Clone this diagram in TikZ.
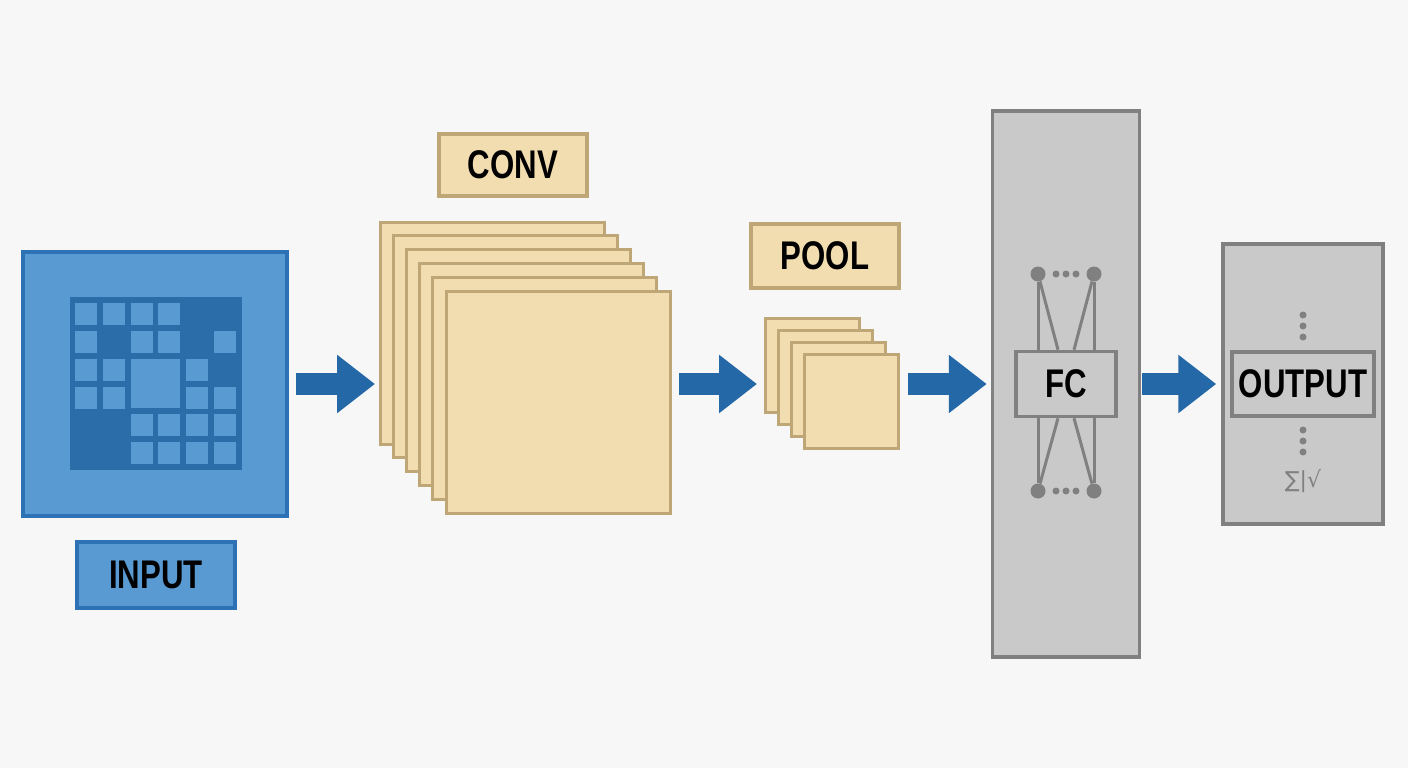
\documentclass[tikz,border=0pt]{standalone}
\usepackage{fontspec}
\setmainfont{Liberation Sans}
\newfontfamily\narrowbold[FakeStretch=0.78]{Liberation Sans Bold}
\newfontfamily\symfont{DejaVu Sans}
\usetikzlibrary{arrows.meta}
\definecolor{inblue}{HTML}{5A9AD3}
\definecolor{inedge}{HTML}{2C72B4}
\definecolor{indark}{HTML}{2A6DA9}
\definecolor{arblue}{HTML}{2568A7}
\definecolor{beige}{HTML}{F1DDB0}
\definecolor{beigeedge}{HTML}{BFA676}
\definecolor{fcgray}{HTML}{C9C9C9}
\definecolor{fcedge}{HTML}{808080}
\tikzset{
  lbl/.style={draw, line width=3.5pt, inner sep=0pt, font=\narrowbold\fontsize{40}{40}\selectfont},
  map/.style={draw=beigeedge, fill=beige, line width=3pt},
  cell/.style={fill=inblue},
  flow/.style={draw=arblue, line width=22pt, -{Triangle[width=56pt,length=38pt]}},
  unit/.style={circle, fill=fcedge, inner sep=0pt, minimum size=15pt},
  link/.style={draw=fcedge, line width=3pt},
}
\begin{document}
\begin{tikzpicture}[x=1pt,y=-1pt]
	\useasboundingbox[fill=white!97!black] (0,0) rectangle (1408,768);
	% input
	\node[draw=inedge, fill=inblue, line width=3.5pt, minimum size=264pt, inner sep=0pt] (in) at (155,384) {};
	\fill[indark] (70,297) rectangle (242,470);
	\foreach \r/\cols in {303/{75,103,131,158}, 331/{75,131,158,214}, 359/{75,103,186}, 387/{75,103,186,214}, 414/{131,158,186,214}, 442/{131,158,186,214}}
		\foreach \c in \cols
			\fill[cell] (\c,\r) rectangle ++(22,22);
	\fill[cell] (131,359) rectangle (180,408);
	\node[lbl, draw=inedge, fill=inblue, minimum width=158pt, minimum height=66pt] (inlbl) at (156,575) {INPUT};
	% conv maps
	\foreach \i in {0,...,5}
		\draw[map] (380+13.2*\i,222+13.8*\i) rectangle ++(224,222);
	\coordinate (cvw) at (380,384);
	\coordinate (cve) at (670,384);
	\node[lbl, draw=beigeedge, fill=beige, minimum width=148pt, minimum height=62pt] (cvlbl) at (513,165) {CONV};
	% pool maps
	\foreach \i in {0,...,3}
		\draw[map] (765+13.3*\i,318+12.3*\i) rectangle ++(94,94);
	\coordinate (plw) at (765,384);
	\coordinate (ple) at (899,384);
	\node[lbl, draw=beigeedge, fill=beige, minimum width=148pt, minimum height=64pt] (pllbl) at (825,256) {POOL};
	% fully connected
	\node[draw=fcedge, fill=fcgray, line width=3.5pt, minimum width=147pt, minimum height=546pt, inner sep=0pt] (fc) at (1066,384) {};
	\node[unit] (u1) at (1038,274) {};
	\node[unit] (u2) at (1094,274) {};
	\node[unit] (u3) at (1038,491) {};
	\node[unit] (u4) at (1094,491) {};
	\node[lbl, draw=fcedge, fill=fcgray, minimum width=100pt, minimum height=65pt] (fclbl) at (1066,384) {FC};
	\draw[link] (u1) -- (u1 |- fclbl.north);
	\draw[link] (u2) -- (u2 |- fclbl.north);
	\draw[link] (u3) -- (u3 |- fclbl.south);
	\draw[link] (u4) -- (u4 |- fclbl.south);
	\draw[link] (u1) -- ([xshift=-8pt]fclbl.north);
	\draw[link] (u2) -- ([xshift=8pt]fclbl.north);
	\draw[link] (u3) -- ([xshift=-8pt]fclbl.south);
	\draw[link] (u4) -- ([xshift=8pt]fclbl.south);
	\foreach \y in {274,491}
		\foreach \x in {1056,1066,1076}
			\fill[fcedge] (\x,\y) circle (3.5pt);
	% output
	\node[draw=fcedge, fill=fcgray, line width=3.5pt, minimum width=160pt, minimum height=280pt, inner sep=0pt] (out) at (1303,384) {};
	\node[lbl, draw=fcedge, fill=fcgray, minimum width=142pt, minimum height=64pt] (outlbl) at (1303,384) {OUTPUT};
	\foreach \y in {315,326,337,430,441,452}
		\fill[fcedge] (1303,\y) circle (3.5pt);
	\node[text=fcedge, inner sep=0pt, font=\symfont\fontsize{22}{22}\selectfont] (sig) at (1303,481) {∑|√};
	% flow arrows
	\draw[flow, shorten <=7pt, shorten >=5pt] (in.east) -- (cvw);
	\draw[flow, shorten <=9pt, shorten >=8pt] (cve) -- (plw);
	\draw[flow, shorten <=9pt, shorten >=4pt] (ple) -- (fc.west);
	\draw[flow, shorten <=1pt, shorten >=5pt] (fc.east) -- (out.west);
\end{tikzpicture}
\end{document}
